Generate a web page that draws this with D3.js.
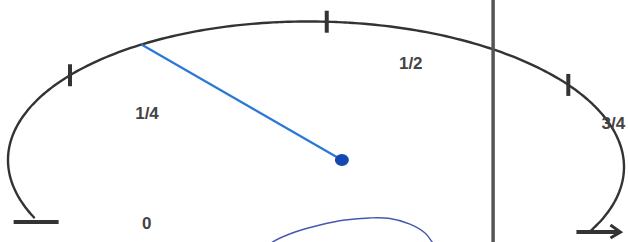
<!DOCTYPE html>
<html>
<head>
<meta charset="utf-8">
<script src="https://cdn.jsdelivr.net/npm/d3@7"></script>
<style>
  body { margin: 0; background: #fff; }
  svg { display: block; }
  .label { font-family: "Liberation Sans", Arial, sans-serif; font-weight: bold; font-size: 17px; fill: #444; }
</style>
</head>
<body>
<svg id="chart" width="628" height="242"></svg>
<script>
// Gauge values (scale runs 0 -> 1)
const tickValues = [0, 0.25, 0.5, 0.75, 1];
const tickAngles = [204, 143, 88, 35, -27]; // hand-drawn dial, quarters are not even
const tickLabels = ["0", "1/4", "1/2", "3/4"];
const needleValue = 0.334;
// Pivot of the needle and the vertical marker, in gauge units (-1..1)
const pivotX = 0.084;
const pivotY = 0;
const markerX = 0.575;
// Thin blue curve under the gauge, gauge units
const curveXs = [-0.175, -0.140, -0.068, 0.013, 0.094, 0.175, 0.240, 0.305, 0.354, 0.377, 0.396];
const curveYs = [-0.648, -0.577, -0.507, -0.458, -0.423, -0.408, -0.412, -0.451, -0.514, -0.577, -0.634];

const svg = d3.select('#chart');
const width = 628, height = 242;

// Scales: gauge units -> pixels, value -> angle (degrees)
const x = d3.scaleLinear().domain([-1, 1]).range([8, 624]);
const y = d3.scaleLinear().domain([-1, 1]).range([302, 18]);
const angle = d3.scaleLinear().domain(tickValues).range(tickAngles);

// point on the dial for a given angle (right side sags a little)
function dialPoint(deg) {
  const t = deg * Math.PI / 180;
  return [x(Math.cos(t)), y(Math.sin(t)) + 3.5 * (1 + Math.cos(t))];
}

// Dial arc
const arcPts = d3.range(angle(0), angle(1) - 0.5, -1).map(dialPoint);
svg.append('path')
  .attr('d', d3.line().curve(d3.curveCatmullRom)(arcPts))
  .attr('fill', 'none')
  .attr('stroke', '#333')
  .attr('stroke-width', 2.4);

// Vertical marker line
svg.append('line')
  .attr('x1', x(markerX)).attr('x2', x(markerX))
  .attr('y1', 0).attr('y2', height)
  .attr('stroke', '#555')
  .attr('stroke-width', 3.5);

// Inner ticks (vertical marks on the arc)
svg.selectAll('.tick')
  .data(tickValues.slice(1, -1))
  .enter().append('line')
  .attr('class', 'tick')
  .each(function(d) {
    const p = dialPoint(angle(d));
    d3.select(this)
      .attr('x1', p[0]).attr('x2', p[0])
      .attr('y1', p[1] - 11).attr('y2', p[1] + 11);
  })
  .attr('stroke', '#333')
  .attr('stroke-width', 4);

// End bars
const p0 = dialPoint(angle(tickValues[0]));
svg.append('line')
  .attr('x1', p0[0] - 21).attr('x2', p0[0] + 24)
  .attr('y1', p0[1] + 4).attr('y2', p0[1] + 4)
  .attr('stroke', '#333').attr('stroke-width', 4);

const p1 = dialPoint(angle(tickValues[4]));
svg.append('line')
  .attr('x1', p1[0] - 14).attr('x2', p1[0] + 29)
  .attr('y1', p1[1] + 1).attr('y2', p1[1] + 1)
  .attr('stroke', '#333').attr('stroke-width', 4);
svg.append('path')
  .attr('d', `M${p1[0] + 20},${p1[1] - 6} L${p1[0] + 30},${p1[1] + 1} L${p1[0] + 20},${p1[1] + 7}`)
  .attr('fill', 'none')
  .attr('stroke', '#333').attr('stroke-width', 3);

// Labels
const labelOffsets = [[112, 11], [77, 44], [84, 47], [45, 44]];
svg.selectAll('.label')
  .data(tickLabels)
  .enter().append('text')
  .attr('class', 'label')
  .attr('text-anchor', 'middle')
  .attr('x', (d, i) => dialPoint(angle(tickValues[i]))[0] + labelOffsets[i][0])
  .attr('y', (d, i) => dialPoint(angle(tickValues[i]))[1] + labelOffsets[i][1])
  .text(d => d);

// Blue curve
const curvePts = curveXs.map((cx, i) => [x(cx), y(curveYs[i])]);
svg.append('path')
  .attr('d', d3.line().curve(d3.curveCatmullRom)(curvePts))
  .attr('fill', 'none')
  .attr('stroke', '#4658b0')
  .attr('stroke-width', 1.4);

// Needle
const tip = dialPoint(angle(needleValue));
svg.append('line')
  .attr('x1', x(pivotX)).attr('y1', y(pivotY))
  .attr('x2', tip[0]).attr('y2', tip[1])
  .attr('stroke', '#2a78d6')
  .attr('stroke-width', 2.2);
svg.append('ellipse')
  .attr('cx', x(pivotX)).attr('cy', y(pivotY))
  .attr('rx', 7).attr('ry', 6)
  .attr('fill', '#1248b0');
</script>
</body>
</html>
